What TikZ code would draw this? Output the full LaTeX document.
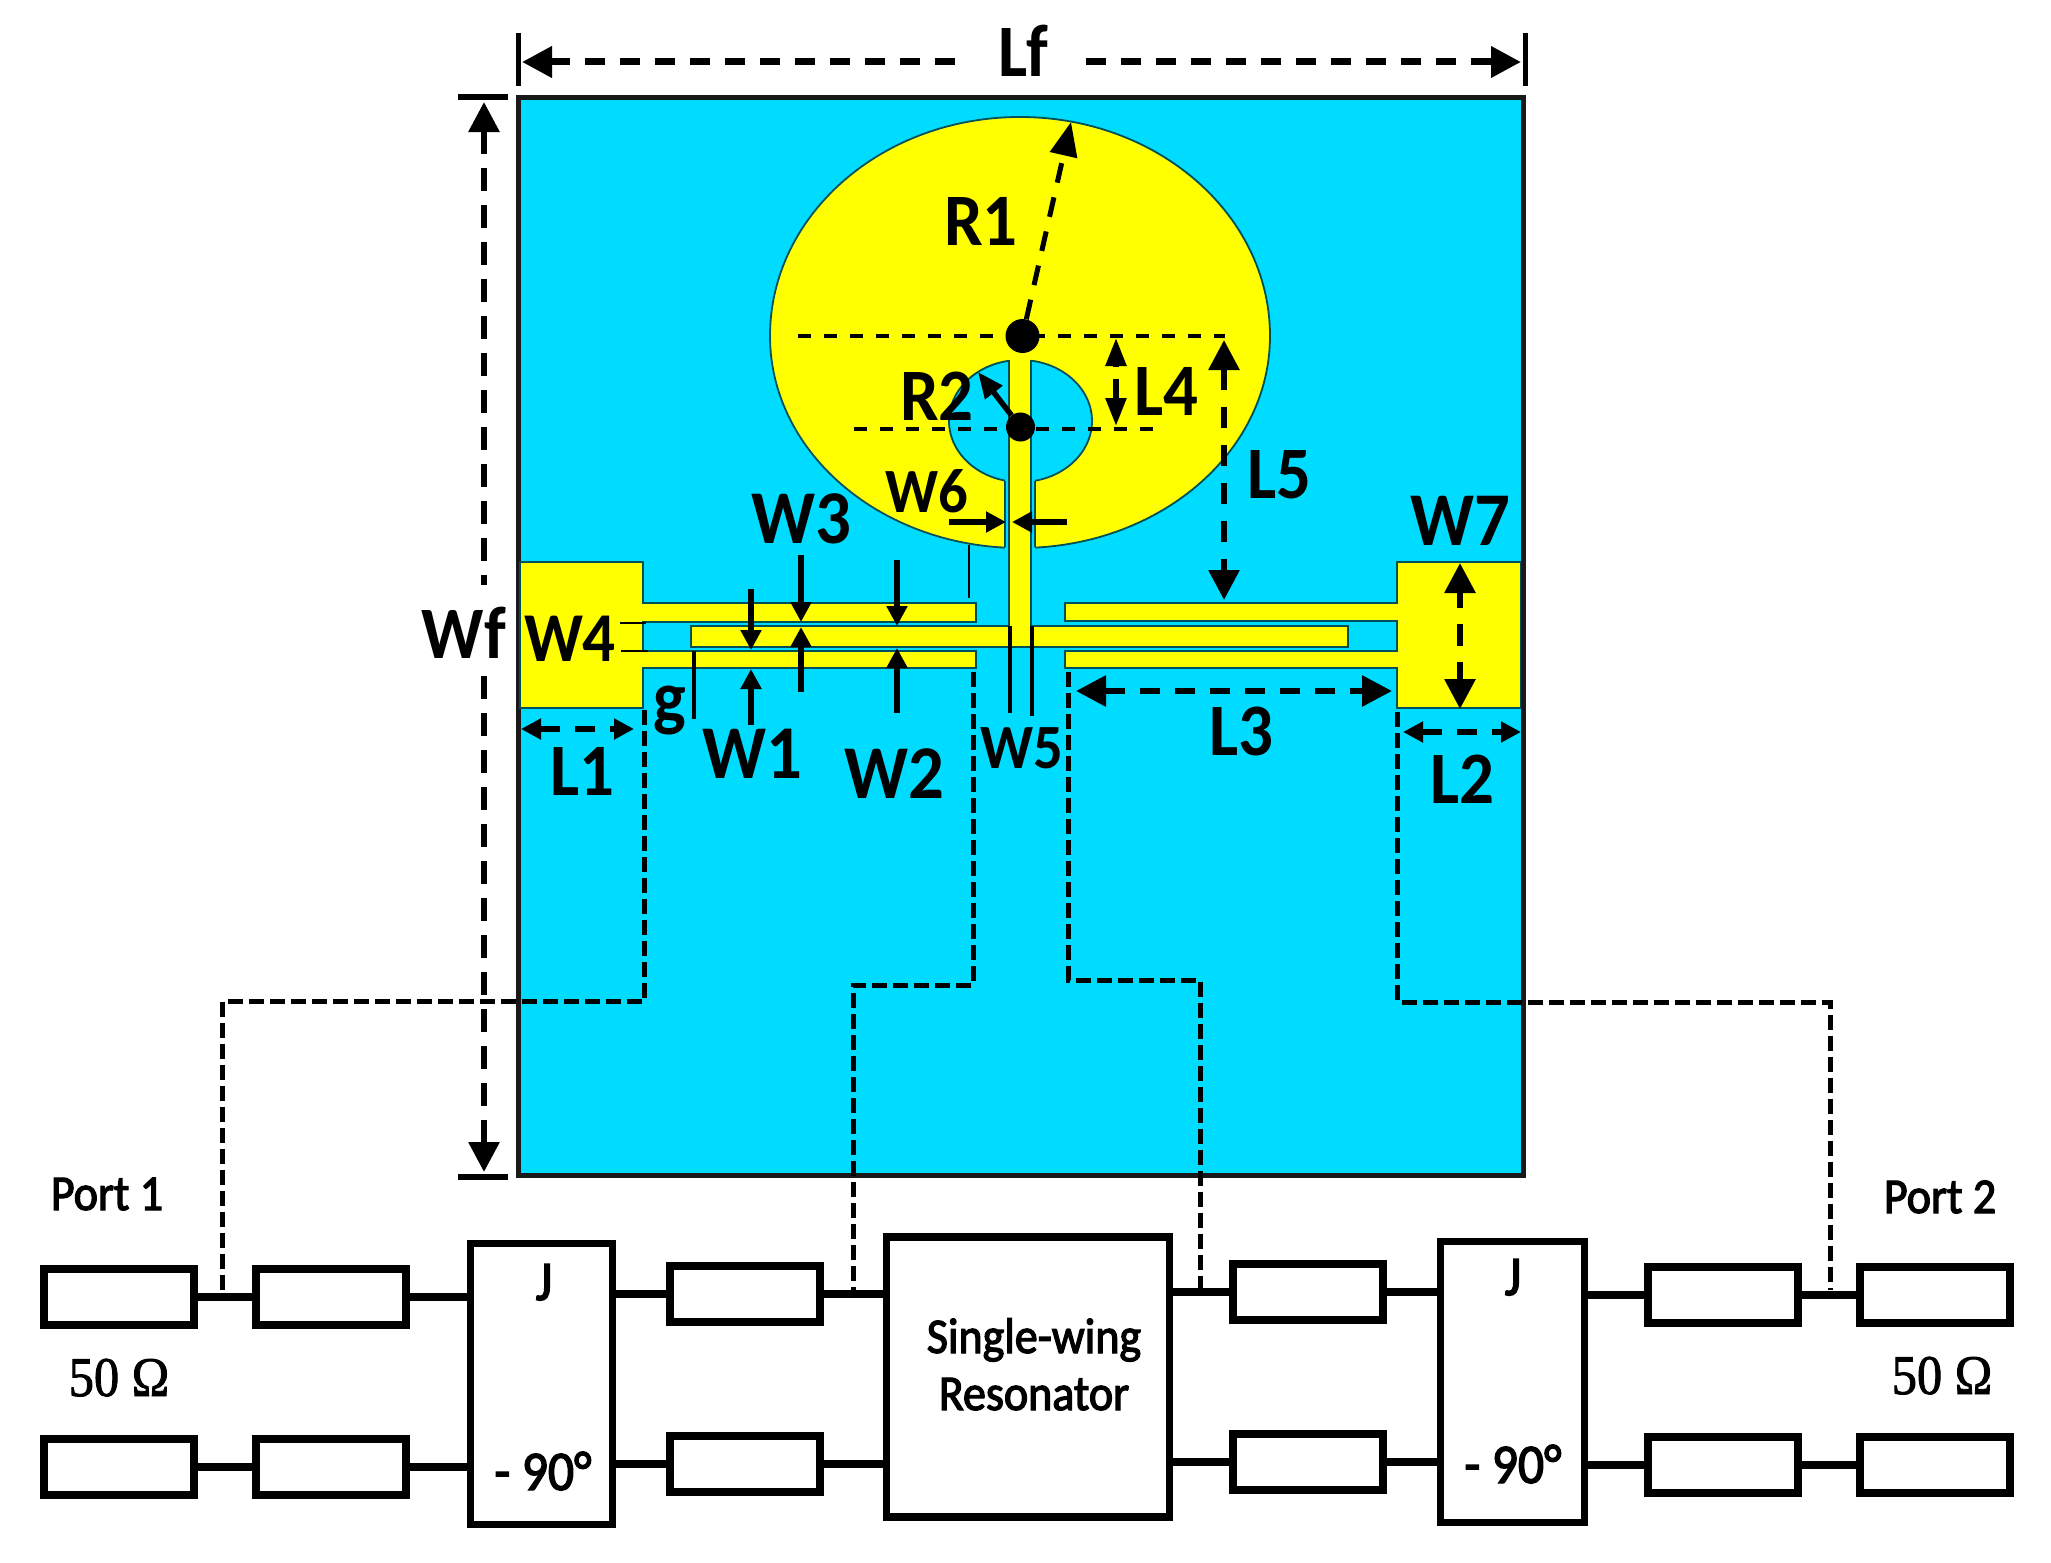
\documentclass[tikz,border=0pt]{standalone}
\usepackage{fontspec}
\setmainfont{Carlito}
\newfontfamily\dimfont[FakeStretch=0.93]{Carlito}
\newfontfamily\blockfont[FakeStretch=0.92,FakeBold=2.5]{Carlito}
\newfontfamily\serifont[FakeStretch=0.9,FakeBold=1.5]{Liberation Serif}
\usetikzlibrary{arrows.meta}
\definecolor{subblue}{RGB}{0,220,255}
\definecolor{patchyellow}{RGB}{255,255,0}
\definecolor{edgeteal}{RGB}{0,80,90}
\tikzset{
  Bt/.tip={Triangle[length=30pt,width=30pt]},
  Mt/.tip={Triangle[length=28pt,width=20pt]},
  St/.tip={Triangle[length=20pt,width=20pt]},
  substrate/.style={fill=subblue,draw=black!90,line width=5pt},
  metal/.style={fill=patchyellow,draw=edgeteal,line width=1.8pt},
  edgeline/.style={draw=edgeteal,line width=1.8pt},
  holefill/.style={fill=subblue,draw=edgeteal,line width=1.8pt},
  lab/.style={inner sep=0pt,anchor=base,font=\fontsize{74}{80}\selectfont\dimfont\bfseries},
  labw/.style={lab,font=\fontsize{76}{80}\selectfont\dimfont\bfseries},
  labn/.style={lab,font=\fontsize{70}{76}\selectfont\dimfont\bfseries},
  labsm/.style={lab,font=\fontsize{63}{68}\selectfont\dimfont\bfseries},
  blocktxt/.style={inner sep=0pt,anchor=base,font=\fontsize{50}{54}\selectfont\blockfont},
  blockbig/.style={blocktxt,font=\fontsize{56}{60}\selectfont\blockfont},
  ohm/.style={inner sep=0pt,anchor=base,font=\fontsize{56}{60}\selectfont\serifont},
  tline/.style={draw=black,fill=white,line width=8pt,inner sep=0pt,minimum width=150pt,minimum height=56pt},
  bigblock/.style={draw=black,fill=white,line width=7.5pt,inner sep=0pt},
  wire/.style={draw=black,line width=8pt},
  link/.style={draw=black,line width=5pt,dash pattern=on 15pt off 6pt},
  guide/.style={draw=black,line width=4pt,dash pattern=on 13pt off 13pt},
  solidarrow/.style={draw=black,line width=5.5pt},
  dimline/.style={draw=black,line width=6pt,dash pattern=on 20pt off 15pt},
  thinmark/.style={draw=black,line width=2pt},
  medmark/.style={draw=black,line width=3.4pt},
  capmark/.style={draw=black,line width=6pt},
  dot/.style={fill=black,circle,inner sep=0pt}
}
\begin{document}
\begin{tikzpicture}[x=1pt,y=-1pt]
\useasboundingbox (0,0) rectangle (2051,1563);
\fill[white] (0,0) rectangle (2051,1563);
% substrate
\draw[substrate] (518,97) rectangle (1523,1175);
% disc with hole and slot
\draw[metal] (770,336) arc[start angle=180,end angle=0,x radius=250pt,y radius=219pt] arc[start angle=360,end angle=180,x radius=250pt,y radius=212pt] -- cycle;
\draw[holefill] (1020.5,421) ellipse [x radius=71.5pt,y radius=61pt];
\fill[subblue] (1005,478) rectangle (1035,552);
\draw[edgeline] (1005,481) -- (1005,547);
\draw[edgeline] (1035,481) -- (1035,547);
% feed: middle strip and stem
\fill[patchyellow] (1009,358) -- (1009,626) -- (691,626) -- (691,647) -- (1348,647) -- (1348,626) -- (1031,626) -- (1031,358) -- cycle;
\draw[edgeline] (1009,360) -- (1009,626) -- (691,626) -- (691,647) -- (1348,647) -- (1348,626) -- (1031,626) -- (1031,360);
% left port
\draw[metal] (520,562) -- (643,562) -- (643,603) -- (976,603) -- (976,622) -- (643,622) -- (643,651) -- (976,651) -- (976,668) -- (643,668) -- (643,708) -- (520,708) -- cycle;
% right port
\draw[metal] (1520.5,562) -- (1397,562) -- (1397,603) -- (1065,603) -- (1065,621) -- (1397,621) -- (1397,651) -- (1065,651) -- (1065,668) -- (1397,668) -- (1397,708) -- (1520.5,708) -- cycle;
% block row
\node[tline] (a1) at (118.5,1297) {};
\node[tline] (a2) at (331,1297) {};
\node[tline] (c1) at (118.5,1466.5) {};
\node[tline] (c2) at (331,1466.5) {};
\node[bigblock,minimum width=142pt,minimum height=281pt] (j1) at (541.5,1384) {};
\node[tline] (a3) at (745,1294) {};
\node[tline] (c3) at (745,1463.5) {};
\node[bigblock,minimum width=283pt,minimum height=280pt] (res) at (1027.75,1377) {};
\node[tline] (a4) at (1308,1291.5) {};
\node[tline] (c4) at (1308,1461.5) {};
\node[bigblock,minimum width=144pt,minimum height=281pt] (j2) at (1512.5,1382) {};
\node[tline] (a5) at (1722.75,1294.5) {};
\node[tline] (c5) at (1722.75,1464.5) {};
\node[tline] (a6) at (1934.5,1294.5) {};
\node[tline] (c6) at (1934.5,1464.5) {};
% wires
\draw[wire] (a1) -- (a2);
\draw[wire] (c1) -- (c2);
\draw[wire] (a2.east) -- (a2.east -| j1.west);
\draw[wire] (c2.east) -- (c2.east -| j1.west);
\draw[wire] (a3.west -| j1.east) -- (a3.west);
\draw[wire] (c3.west -| j1.east) -- (c3.west);
\draw[wire] (a3.east) -- (a3.east -| res.west);
\draw[wire] (c3.east) -- (c3.east -| res.west);
\draw[wire] (a4.west -| res.east) -- (a4.west);
\draw[wire] (c4.west -| res.east) -- (c4.west);
\draw[wire] (a4.east) -- (a4.east -| j2.west);
\draw[wire] (c4.east) -- (c4.east -| j2.west);
\draw[wire] (a5.west -| j2.east) -- (a5.west);
\draw[wire] (c5.west -| j2.east) -- (c5.west);
\draw[wire] (a5) -- (a6);
\draw[wire] (c5) -- (c6);
% dashed links from the layout to the circuit
\coordinate (k1a) at (644.5,710); \coordinate (k1b) at (644.5,1001); \coordinate (k1c) at (222,1001); \coordinate (k1d) at (222,1291);
\coordinate (k2a) at (973,672); \coordinate (k2b) at (973,985); \coordinate (k2c) at (853,985); \coordinate (k2d) at (853,1291);
\coordinate (k3a) at (1068.5,672); \coordinate (k3b) at (1068.5,980); \coordinate (k3c) at (1200,980); \coordinate (k3d) at (1200,1288);
\coordinate (k4a) at (1397.5,712); \coordinate (k4b) at (1397.5,1002); \coordinate (k4c) at (1830,1002); \coordinate (k4d) at (1830,1290);
\draw[link] (k1a) -- (k1b) -- (k1c) -- (k1d);
\draw[link] (k2a) -- (k2b) -- (k2c) -- (k2d);
\draw[link] (k3a) -- (k3b) -- (k3c) -- (k3d);
\draw[link] (k4a) -- (k4b) -- (k4c) -- (k4d);
% centres and radii
\node[dot,minimum size=34pt] (o1) at (1022.5,336) {};
\node[dot,minimum size=29pt] (o2) at (1020.5,427) {};
\coordinate (g1a) at (798,336); \coordinate (g1b) at (1225,336);
\coordinate (g2a) at (854,429); \coordinate (g2b) at (1159,429);
\draw[guide] (g1a) -- (g1b);
\draw[guide] (g2a) -- (g2b);
\coordinate (r1tip) at (1071,122); \coordinate (r2tip) at (978,372);
\draw[dimline,line width=5pt,-{Triangle[length=34pt,width=27pt]}] (o1) -- (r1tip);
\draw[solidarrow,-{Triangle[length=26pt,width=21pt]}] (o2) -- (r2tip);
% Lf
\coordinate (lfa) at (518,33); \coordinate (lfb) at (518,86); \coordinate (lfc) at (1525,33); \coordinate (lfd) at (1525,86);
\draw[medmark,line width=5pt] (lfa) -- (lfb);
\draw[medmark,line width=5pt] (lfc) -- (lfd);
\coordinate (lf1) at (522,62); \coordinate (lf2) at (956,62); \coordinate (lf3) at (1086,62); \coordinate (lf4) at (1521,62);
\draw[dimline,line width=7pt,{Bt}-] (lf1) -- (lf2);
\draw[dimline,line width=7pt,-{Bt}] (lf3) -- (lf4);
% Wf
\coordinate (wfa) at (458,97); \coordinate (wfb) at (508,97); \coordinate (wfc) at (458,1177); \coordinate (wfd) at (508,1177);
\draw[capmark] (wfa) -- (wfb);
\draw[capmark] (wfc) -- (wfd);
\coordinate (wf1) at (484,102); \coordinate (wf2) at (484,585); \coordinate (wf3) at (484,676); \coordinate (wf4) at (484,1172);
\draw[dimline,dash pattern=on 23pt off 14pt,{Bt}-] (wf1) -- (wf2);
\draw[dimline,dash pattern=on 23pt off 14pt,-{Bt}] (wf3) -- (wf4);
% L1, L2, L3, W7, L5
\coordinate (l1a) at (521,729); \coordinate (l1b) at (634,729);
\draw[dimline,line width=5.5pt,{St}-{St}] (l1a) -- (l1b);
\coordinate (l2a) at (1403,732); \coordinate (l2b) at (1521,732);
\draw[dimline,line width=5.5pt,{St}-{St}] (l2a) -- (l2b);
\coordinate (l3a) at (1076,691); \coordinate (l3b) at (1392,691);
\draw[dimline,{Bt}-{Bt}] (l3a) -- (l3b);
\coordinate (w7a) at (1460,563); \coordinate (w7b) at (1460,709);
\draw[dimline,dash pattern=on 16pt off 16pt on 22pt off 16pt on 30pt,{Bt}-{Bt}] (w7a) -- (w7b);
\coordinate (l5a) at (1224,340); \coordinate (l5b) at (1224,600);
\draw[dimline,dash pattern=on 21pt off 17pt,{Bt}-{Bt}] (l5a) -- (l5b);
% L4
\coordinate (l4a) at (1116,367); \coordinate (l4b) at (1116,338); \coordinate (l4c) at (1116,379); \coordinate (l4d) at (1116,426);
\draw[solidarrow,-{Mt}] (l4a) -- (l4b);
\draw[solidarrow,-{Mt}] (l4c) -- (l4d);
% W6
\coordinate (w6a) at (949,522); \coordinate (w6b) at (1006,522); \coordinate (w6c) at (1067,522); \coordinate (w6d) at (1012,522);
\draw[solidarrow,-{St}] (w6a) -- (w6b);
\draw[solidarrow,-{St}] (w6c) -- (w6d);
% W1, W3, W2
\coordinate (w1a) at (751,589); \coordinate (w1b) at (751,650); \coordinate (w1c) at (751,725); \coordinate (w1d) at (751,669);
\draw[solidarrow,-{St}] (w1a) -- (w1b);
\draw[solidarrow,-{St}] (w1c) -- (w1d);
\coordinate (w3a) at (801,555); \coordinate (w3b) at (801,622); \coordinate (w3c) at (801,692); \coordinate (w3d) at (801,627);
\draw[solidarrow,-{St}] (w3a) -- (w3b);
\draw[solidarrow,-{St}] (w3c) -- (w3d);
\coordinate (w2a) at (897,560); \coordinate (w2b) at (897,626); \coordinate (w2c) at (897,713); \coordinate (w2d) at (897,648);
\draw[solidarrow,-{St}] (w2a) -- (w2b);
\draw[solidarrow,-{St}] (w2c) -- (w2d);
% extension marks
\coordinate (m1a) at (969,545); \coordinate (m1b) at (969,598);
\draw[thinmark] (m1a) -- (m1b);
\coordinate (m2a) at (620,623); \coordinate (m2b) at (646,623); \coordinate (m2c) at (621,651); \coordinate (m2d) at (648,651);
\draw[thinmark] (m2a) -- (m2b);
\draw[thinmark] (m2c) -- (m2d);
\coordinate (m3a) at (694,651); \coordinate (m3b) at (694,719);
\draw[medmark] (m3a) -- (m3b);
\coordinate (m4a) at (1010,626); \coordinate (m4b) at (1010,713); \coordinate (m4c) at (1032,626); \coordinate (m4d) at (1032,716);
\draw[medmark] (m4a) -- (m4b);
\draw[medmark] (m4c) -- (m4d);
% dimension labels
\node[lab] (tLf) at (1023,77) {Lf};
\node[lab] (tWf) at (464,658) {Wf};
\node[lab] (tR1) at (981,245) {R1};
\node[lab] (tR2) at (937,420) {R2};
\node[lab] (tL4) at (1166,415) {L4};
\node[lab] (tL5) at (1279,498) {L5};
\node[labsm] (tW6) at (927,512) {W6};
\node[labw] (tW3) at (801,543) {W3};
\node[labw] (tW7) at (1460,545) {W7};
\node[labn] (tW4) at (570,661) {W4};
\node[labw] (tW1) at (752,778) {W1};
\node[labw] (tW2) at (894,798) {W2};
\node[labsm] (tW5) at (1022,768) {W5};
\node[lab] (tg) at (670,722) {g};
\node[lab] (tL1) at (582,795) {L1};
\node[lab] (tL3) at (1241,755) {L3};
\node[lab] (tL2) at (1462,803) {L2};
% block labels
\node[blocktxt] (tP1) at (107,1210) {Port 1};
\node[blocktxt] (tP2) at (1940,1213) {Port 2};
\node[ohm] (tO1) at (119,1396) {50 Ω};
\node[ohm] (tO2) at (1942,1394) {50 Ω};
\node[blockbig] (tJ1) at (544,1300) {J};
\node[blockbig] (tJ2) at (1513,1295) {J};
\node[blockbig] (tD1) at (543,1490) {- 90°};
\node[blockbig] (tD2) at (1513,1483) {- 90°};
\node[blocktxt] (tS) at (1034,1353) {Single-wing};
\node[blocktxt] (tRn) at (1034,1410) {Resonator};
\end{tikzpicture}
\end{document}
